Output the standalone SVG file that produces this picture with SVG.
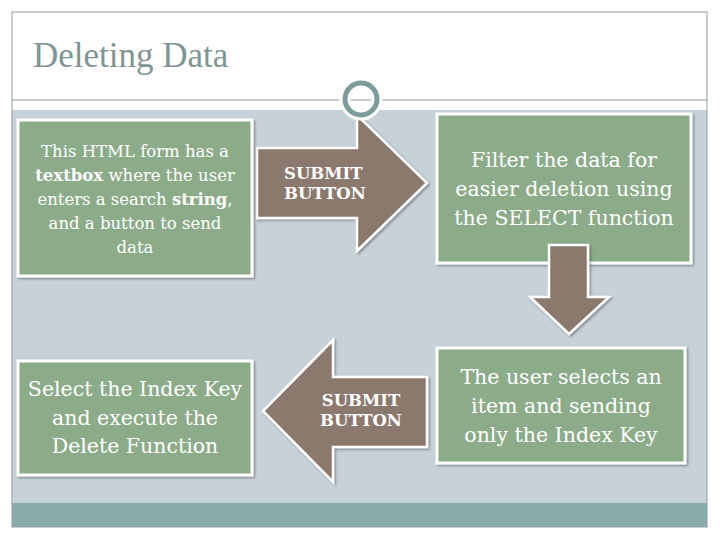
<svg xmlns="http://www.w3.org/2000/svg" width="720" height="540" viewBox="0 0 720 540">
<defs>
<style>
.box{fill:#8cac89;stroke:#ffffff;stroke-width:3}
.arr{fill:#8b796e;stroke:#ffffff;stroke-width:2.5;stroke-linejoin:miter}
.t{font-family:"DejaVu Serif","Liberation Serif",serif;fill:#ffffff;text-anchor:middle}
.b{font-family:"DejaVu Serif","Liberation Serif",serif;fill:#ffffff;font-weight:bold;font-size:16.5px}
</style>
<filter id="sh" x="-10%" y="-10%" width="130%" height="130%">
<feDropShadow dx="1.5" dy="1.5" stdDeviation="1.2" flood-color="#000000" flood-opacity="0.35"/>
</filter>
</defs>
<rect x="0" y="0" width="720" height="540" fill="#ffffff"/>
<g id="frame">
<rect x="12" y="110" width="695" height="393" fill="#c7d1d8"/>
<rect x="12" y="503" width="695" height="24" fill="#8aabab"/>
<rect x="12" y="12" width="695" height="515" fill="none" stroke="#8c9ba0" stroke-width="1"/>
<line x1="12" y1="100" x2="707" y2="100" stroke="#8c9ba0" stroke-width="1.2"/>
<text x="33" y="67" font-family="Liberation Serif,serif" font-size="35" fill="#7f9595">Deleting Data</text>
</g>
<g id="connectors">
<polygon class="arr" filter="url(#sh)" points="257,148 357,148 357,115 427,183 357,251 357,218 257,218"/>
<polygon class="arr" filter="url(#sh)" points="427,377 333,377 333,340 263,411 333,482 333,447 427,447"/>
<text class="b" x="284" y="179">SUBMIT</text>
<text class="b" x="284" y="199">BUTTON</text>
<text class="b" x="361" y="406" text-anchor="middle">SUBMIT</text>
<text class="b" x="361" y="426" text-anchor="middle">BUTTON</text>
</g>
<g id="circle">
<circle cx="361" cy="99" r="16" fill="none" stroke="#ffffff" stroke-width="11"/>
<circle cx="361" cy="99" r="16" fill="none" stroke="#7e9b9b" stroke-width="5"/>
</g>
<g id="node1">
<rect class="box" filter="url(#sh)" x="18" y="120" width="234" height="156"/>
<text class="t" font-size="16.5"><tspan x="135" y="157">This HTML form has a</tspan><tspan x="135" y="181"><tspan font-weight="bold">textbox</tspan> where the user</tspan><tspan x="135" y="205">enters a search <tspan font-weight="bold">string</tspan>,</tspan><tspan x="135" y="229">and a button to send</tspan><tspan x="135" y="253">data</tspan></text>
</g>
<g id="node2">
<rect class="box" filter="url(#sh)" x="437" y="114" width="254" height="149"/>
<text class="t" font-size="20.5"><tspan x="564" y="167">Filter the data for</tspan><tspan x="564" y="196">easier deletion using</tspan><tspan x="564" y="225">the SELECT function</tspan></text>
</g>
<g id="down-arrow">
<polygon class="arr" filter="url(#sh)" points="549,245 588,245 588,297 609,297 569,334 530,297 549,297"/>
</g>
<g id="node3">
<rect class="box" filter="url(#sh)" x="437" y="348" width="248" height="115"/>
<text class="t" font-size="20.5"><tspan x="561" y="384">The user selects an</tspan><tspan x="561" y="413">item and sending</tspan><tspan x="561" y="442">only the Index Key</tspan></text>
</g>
<g id="node4">
<rect class="box" filter="url(#sh)" x="18" y="361" width="234" height="114"/>
<text class="t" font-size="20.5"><tspan x="135" y="396">Select the Index Key</tspan><tspan x="135" y="425">and execute the</tspan><tspan x="135" y="453">Delete Function</tspan></text>
</g>
</svg>
